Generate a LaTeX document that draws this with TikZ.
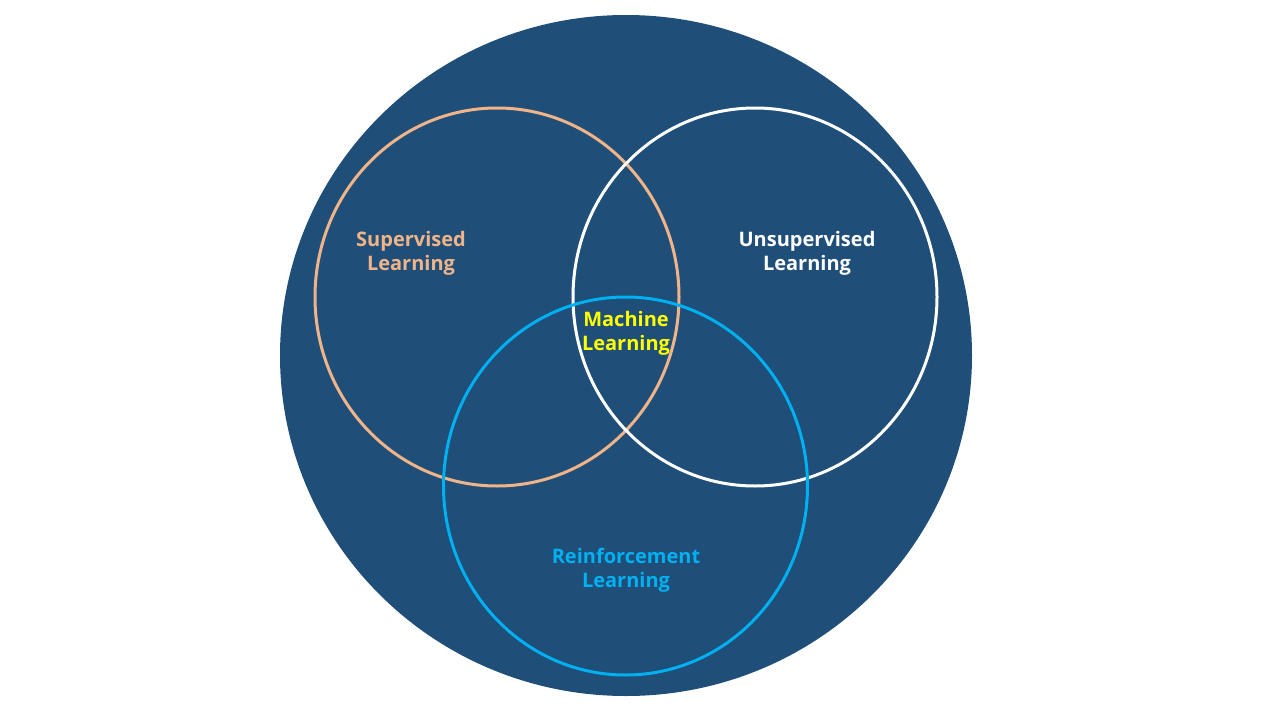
\documentclass[tikz,border=0pt]{standalone}
\usepackage{fontspec}
\setmainfont{Open Sans}
\usepackage{tikz}

\definecolor{mlnavy}{HTML}{1F4E79}
\definecolor{mlpeach}{HTML}{F0B489}
\definecolor{mlcyan}{HTML}{00B0F0}
\definecolor{mlyellow}{HTML}{FFFF00}

\tikzset{
    setlabel/.style={align=center, font=\fontsize{20}{24}\selectfont\bfseries, inner sep=0pt},
    setring/.style={line width=3pt}
}

\begin{document}
\begin{tikzpicture}[x=1pt, y=-1pt]
            \useasboundingbox (0,0) rectangle (1280,720);
            \fill[mlnavy] (626,355.5) ellipse [x radius=346pt, y radius=340.5pt];
            \draw[setring, mlpeach] (497,297) ellipse [x radius=182pt, y radius=189pt];
            \draw[setring, white] (755,297) ellipse [x radius=182pt, y radius=189pt];
            \draw[setring, mlcyan] (625.5,486) ellipse [x radius=182pt, y radius=189pt];
            \node[setlabel, text=mlpeach] (sup) at (411,253) {Supervised \\ Learning};
            \node[setlabel, text=white] (unsup) at (807,253) {Unsupervised \\ Learning};
            \node[setlabel, text=mlyellow] (ml) at (626,333) {Machine \\ Learning};
            \node[setlabel, text=mlcyan] (reinf) at (626,570) {Reinforcement \\ Learning};
        \end{tikzpicture}
\end{document}
